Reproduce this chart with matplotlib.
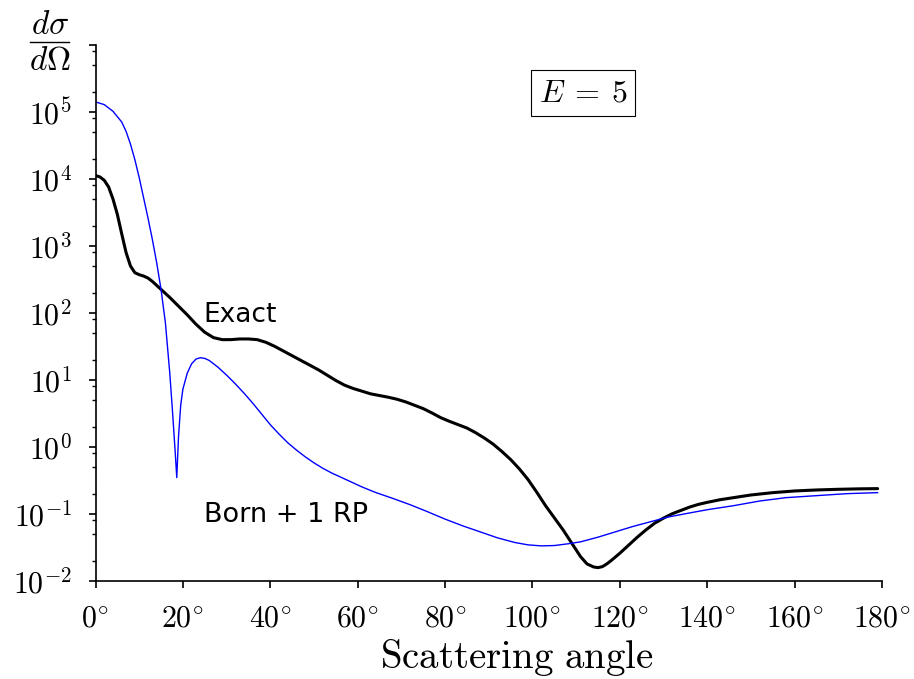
import matplotlib
matplotlib.use("Agg")
import matplotlib.pyplot as plt
from matplotlib.ticker import FixedLocator, NullFormatter
from matplotlib.lines import Line2D

plt.rcParams['mathtext.fontset'] = 'cm'

# Exact cross section (angle in degrees, log10 of dsigma/dOmega)
exact_angle = [0, 1, 2, 3, 4, 5, 6, 7, 8, 9, 10, 11, 12, 13, 14, 15, 17, 19, 21, 23,
               25, 27, 29, 31, 33, 35, 37, 39, 41, 43, 45, 47, 49, 51, 53, 55, 57, 59,
               61, 63, 65, 67, 69, 71, 73, 75, 77, 79, 81, 83, 85, 87, 89, 91, 93, 95,
               97, 99, 101, 103, 105, 107, 109, 111, 112.5, 114, 115, 116, 117, 118,
               120, 122, 124, 126, 128, 130, 132, 134, 136, 138, 140, 143, 146, 150,
               155, 160, 165, 170, 175, 179]
exact_log = [4.05, 4.03, 3.98, 3.88, 3.70, 3.47, 3.18, 2.90, 2.70, 2.60, 2.57, 2.55,
             2.52, 2.47, 2.41, 2.35, 2.23, 2.10, 1.97, 1.83, 1.71, 1.63, 1.60, 1.60,
             1.61, 1.61, 1.60, 1.56, 1.50, 1.43, 1.36, 1.29, 1.22, 1.15, 1.07, 0.99,
             0.92, 0.87, 0.83, 0.79, 0.765, 0.74, 0.71, 0.67, 0.62, 0.57, 0.505, 0.435,
             0.38, 0.33, 0.28, 0.21, 0.13, 0.04, -0.07, -0.19, -0.33, -0.49, -0.68,
             -0.88, -1.06, -1.24, -1.44, -1.64, -1.75, -1.795, -1.805, -1.79, -1.75,
             -1.70, -1.59, -1.47, -1.35, -1.24, -1.14, -1.065, -1.00, -0.95, -0.90,
             -0.86, -0.83, -0.79, -0.76, -0.72, -0.685, -0.66, -0.645, -0.635, -0.628,
             -0.625]
exact_xs = [10.0 ** v for v in exact_log]

# Born + 1 RP
born_angle = [0, 2, 4, 6, 7, 8, 9, 10, 11, 12, 13, 14, 15, 16, 17, 17.6, 18.2, 18.6,
              19.0, 19.5, 20, 21, 22, 23, 24, 25, 26, 28, 30, 32, 34, 36, 38, 40, 42,
              44, 46, 48, 50, 52, 54, 56, 58, 61, 64, 68, 72, 76, 80, 84, 88, 92, 96,
              99, 102, 105, 108, 111, 115, 119, 123, 127, 131, 135, 140, 146, 152, 158,
              165, 172, 179]
born_log = [5.15, 5.11, 5.01, 4.85, 4.71, 4.52, 4.29, 4.02, 3.72, 3.42, 3.10, 2.75,
            2.35, 1.85, 1.10, 0.55, -0.04, -0.46, 0.15, 0.62, 0.86, 1.10, 1.24, 1.31,
            1.33, 1.32, 1.29, 1.19, 1.07, 0.94, 0.80, 0.65, 0.49, 0.33, 0.19, 0.06,
            -0.05, -0.15, -0.24, -0.32, -0.39, -0.45, -0.51, -0.60, -0.68, -0.77,
            -0.865, -0.97, -1.08, -1.18, -1.27, -1.36, -1.43, -1.465, -1.48, -1.475,
            -1.45, -1.42, -1.35, -1.27, -1.19, -1.12, -1.05, -1.00, -0.94, -0.88,
            -0.81, -0.76, -0.73, -0.70, -0.685]
born_xs = [10.0 ** v for v in born_log]

x_ticks = [0, 20, 40, 60, 80, 100, 120, 140, 160, 180]
y_major = [1e-2, 1e-1, 1e0, 1e1, 1e2, 1e3, 1e4, 1e5, 1e6]
y_labels = [r'$10^{-2}$', r'$10^{-1}$', r'$10^{0}$', r'$10^{1}$', r'$10^{2}$',
            r'$10^{3}$', r'$10^{4}$', r'$10^{5}$', '']

W, H = 914, 679
fig = plt.figure(figsize=(W / 100, H / 100), dpi=100)
L, R, B, T = 95.5, 882, 580.7, 45
ax = fig.add_axes([L / W, 1 - B / H, (R - L) / W, (B - T) / H])

ax.plot(exact_angle, exact_xs, color='black', lw=2.2, solid_joinstyle='round',
        solid_capstyle='round')
ax.plot(born_angle, born_xs, color='#0000ff', lw=1.0, solid_joinstyle='round')

ax.set_yscale('log')
ax.set_xlim(0, 180)
ax.set_ylim(1e-2, 1e6)

for s in ['top', 'right']:
    ax.spines[s].set_visible(False)
for s in ['left', 'bottom']:
    ax.spines[s].set_linewidth(1.2)

ax.set_xticks(x_ticks)
ax.set_xticklabels([rf'${t}^{{\!\circ}}$' for t in x_ticks])
ax.yaxis.set_major_locator(FixedLocator(y_major))
ax.set_yticklabels(y_labels)
minors = [m * 10.0 ** e for e in range(-2, 6) for m in (2, 5, 8)]
ax.yaxis.set_minor_locator(FixedLocator(minors))
ax.yaxis.set_minor_formatter(NullFormatter())
ax.xaxis.set_minor_locator(FixedLocator([]))

ax.tick_params(axis='both', which='major', direction='out', length=5, width=1.2,
               labelsize=21.5)
ax.tick_params(axis='x', which='major', pad=12)
ax.tick_params(axis='y', which='major', pad=12)
ax.tick_params(axis='y', which='minor', direction='out', length=3, width=1.0)

fig.text(517 / W, 1 - 658 / H, r'$\mathrm{Scattering\ angle}$', fontsize=28,
         ha='center', va='center')

# y label: d sigma / d Omega as a stacked fraction
fig.text(50 / W, 1 - 25 / H, r'$d\sigma$', fontsize=24, ha='center', va='center')
fig.text(50 / W, 1 - 61 / H, r'$d\Omega$', fontsize=24, ha='center', va='center')
fig.add_artist(Line2D([30 / W, 69 / W], [1 - 42 / H, 1 - 42 / H], color='black',
                      lw=1.0, transform=fig.transFigure))

fig.text(583 / W, 1 - 93 / H, r'$E\:=\:5$', fontsize=23, ha='center', va='center',
         bbox=dict(boxstyle='square,pad=0.24', fc='white', ec='black', lw=0.8))

fig.text(203 / W, 1 - 322 / H, 'Exact', fontsize=19, family='DejaVu Sans',
         ha='left', va='baseline')
fig.text(204 / W, 1 - 522 / H, 'Born + 1 RP', fontsize=19.5, family='DejaVu Sans',
         ha='left', va='baseline')

fig.savefig('out.png', dpi=100)
